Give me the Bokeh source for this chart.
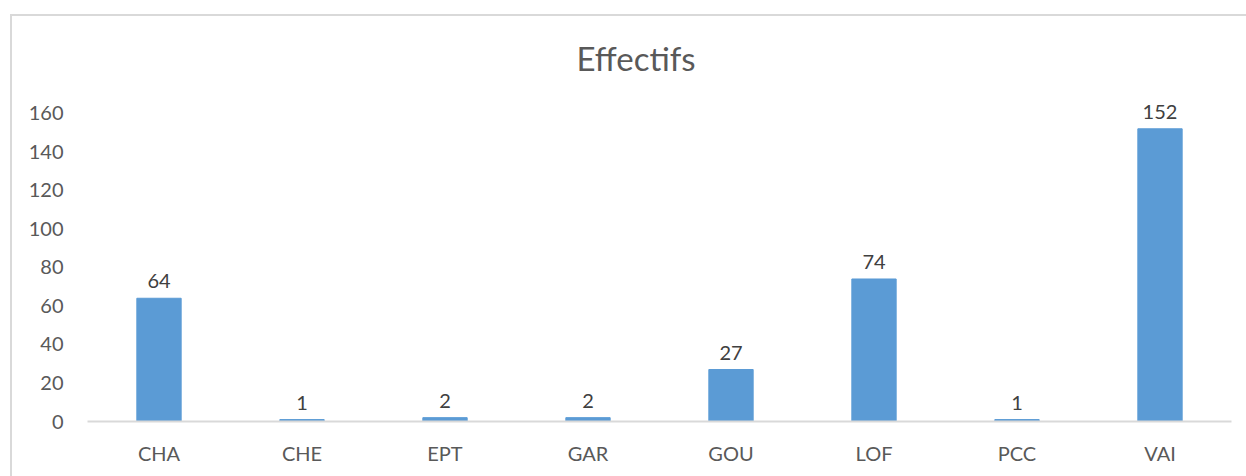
from bokeh.plotting import figure
from bokeh.models import ColumnDataSource, FixedTicker, Range1d, FactorRange
from bokeh.embed import file_html
from bokeh.resources import INLINE
from bokeh.core.properties import value

categories = ["CHA", "CHE", "EPT", "GAR", "GOU", "LOF", "PCC", "VAI"]
effectifs = [64, 1, 2, 2, 27, 74, 1, 152]
y_ticks = [0, 20, 40, 60, 80, 100, 120, 140, 160]
title_text = "Effectifs"

FONT = "Lato"

src = ColumnDataSource(dict(cat=categories, val=effectifs, lab=[str(v) for v in effectifs]))

p = figure(
    width=1246, height=476,
    x_range=FactorRange(*categories),
    y_range=Range1d(0, 175),
    output_backend="svg", toolbar_location=None,
    min_border_left=87, min_border_right=15, min_border_bottom=55, min_border_top=84,
)
p.styles = {
    "background-color": "white",
    "background-image": "linear-gradient(#d9d9d9,#d9d9d9), linear-gradient(#d9d9d9,#d9d9d9)",
    "background-size": "100% 2px, 2px 100%",
    "background-position": "10px 14px, 10px 14px",
    "background-repeat": "no-repeat",
}
p.outline_line_color = None
p.background_fill_color = "white"
p.border_fill_alpha = 0

p.title.text = title_text
p.title.align = "left"
p.title.offset = 489
p.title.standoff = 14
p.title.text_font = FONT
p.title.text_font_size = "33px"
p.title.text_font_style = "normal"
p.title.text_color = "#595959"

p.vbar(x="cat", top="val", width=0.31, source=src, fill_color="#5B9BD5", line_color="#5B9BD5")
p.text(x="cat", y="val", text="lab", source=src, text_align="center", text_baseline="alphabetic",
       y_offset=-17, text_font=value(FONT), text_font_size="20px", text_color="#404040")

p.xgrid.visible = False
p.ygrid.visible = False

xa = p.xaxis[0]
xa.axis_line_color = "#d9d9d9"
xa.axis_line_width = 2
xa.major_tick_line_color = None
xa.minor_tick_line_color = None
xa.major_tick_out = 0
xa.major_tick_in = 0
xa.major_label_standoff = 19
xa.major_label_text_font = FONT
xa.major_label_text_font_size = "20px"
xa.major_label_text_color = "#595959"

ya = p.yaxis[0]
ya.ticker = FixedTicker(ticks=y_ticks)
ya.axis_line_color = None
ya.major_tick_line_color = None
ya.minor_tick_line_color = None
ya.major_tick_out = 0
ya.major_tick_in = 0
ya.major_label_standoff = 24
ya.major_label_text_font = FONT
ya.major_label_text_font_size = "20px"
ya.major_label_text_color = "#595959"

open("out.html", "w").write(file_html(p, INLINE))
